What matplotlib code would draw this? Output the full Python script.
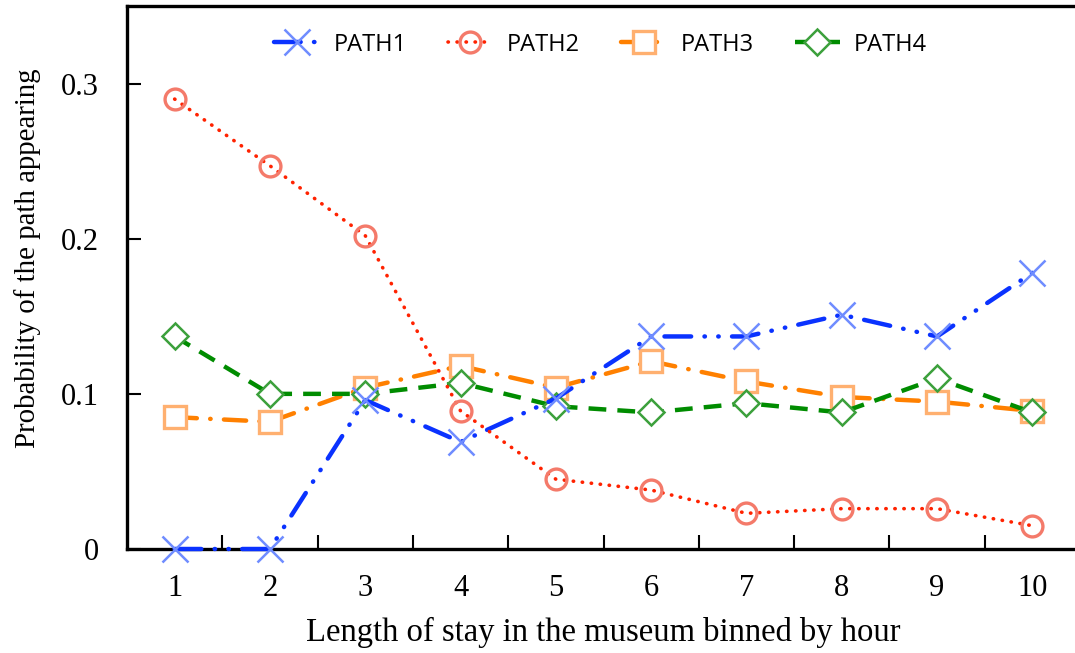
import matplotlib
matplotlib.use("Agg")
import matplotlib.pyplot as plt

hours = [1, 2, 3, 4, 5, 6, 7, 8, 9, 10]
path1 = [0.0, 0.0, 0.096, 0.069, 0.097, 0.137, 0.137, 0.151, 0.137, 0.178]
path2 = [0.290, 0.247, 0.202, 0.089, 0.045, 0.038, 0.023, 0.026, 0.026, 0.015]
path3 = [0.085, 0.082, 0.104, 0.118, 0.104, 0.121, 0.108, 0.098, 0.095, 0.089]
path4 = [0.137, 0.100, 0.100, 0.107, 0.092, 0.088, 0.094, 0.088, 0.110, 0.088]
labels = ["PATH1", "PATH2", "PATH3", "PATH4"]

fig = plt.figure(figsize=(10.75, 6.53), dpi=100)
ax = fig.add_axes([127/1075, 104/653, 953/1075, 543/653])

# line, marker colours and dash patterns
blue, red, orange, green = "#0a32ff", "#ff2200", "#ff8000", "#008c00"
ax.plot(hours, path1, color=blue, lw=3.2, dashes=(6, 3, 0.1, 3, 0.1, 3),
        dash_capstyle="round", marker="x", ms=19, mew=1.8,
        mec="#6f8cff", label=labels[0], zorder=3, clip_on=False)
ax.plot(hours, path2, color=red, lw=2.6, dashes=(0.1, 2.4),
        dash_capstyle="round", marker="o", ms=15, mew=2.4,
        mec="#f47a6a", mfc="none", label=labels[1], zorder=3)
ax.plot(hours, path3, color=orange, lw=3.2, dashes=(5, 3, 0.1, 3),
        dash_capstyle="round", marker="s", ms=16, mew=2.4,
        mec="#ffb070", mfc="white", label=labels[2], zorder=2)
ax.plot(hours, path4, color=green, lw=3.2, dashes=(4, 2.5),
        marker="D", ms=13, mew=1.8, mec="#3ca03c", mfc="white",
        label=labels[3], zorder=2)

ax.set_xlim(0.5, 10.5)
ax.set_ylim(0, 0.35)
ax.set_xticks(hours)
ax.set_xticklabels([str(h) for h in hours])
ax.set_xticks([h + 0.5 for h in hours[:-1]], minor=True)
ax.set_yticks([0, 0.1, 0.2, 0.3])
ax.set_yticklabels(["0", "0.1", "0.2", "0.3"])
ax.tick_params(axis="x", which="major", length=0, pad=18)
ax.tick_params(axis="x", which="minor", direction="in", length=10, width=1.5)
ax.tick_params(axis="y", direction="in", length=10, width=1.5, pad=20)

serif = "Liberation Serif"
for t in ax.get_xticklabels() + ax.get_yticklabels():
    t.set_fontfamily(serif)
    t.set_fontsize(22)
ax.set_xlabel("Length of stay in the museum binned by hour",
              fontfamily=serif, fontsize=23.5, labelpad=10)
ax.set_ylabel("Probability of the path appearing",
              fontfamily=serif, fontsize=20.8)
ax.yaxis.set_label_coords(-0.09, 0.535)

for s in ax.spines.values():
    s.set_linewidth(2.4)

ax.legend(loc="upper center", bbox_to_anchor=(0.497, 0.99), ncol=4,
          frameon=False, numpoints=1, handlelength=1.9, handletextpad=0.6,
          columnspacing=1.75, prop={"family": "Open Sans", "size": 17})

fig.savefig("out.png", dpi=100)
